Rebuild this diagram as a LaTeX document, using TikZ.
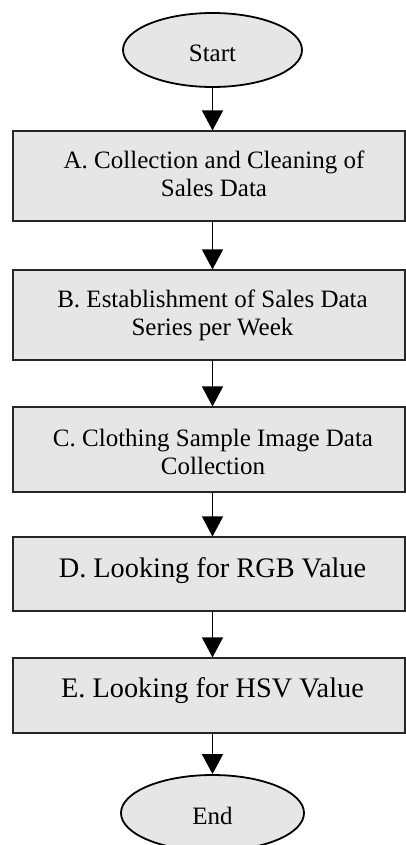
\documentclass[tikz,border=0pt]{standalone}
\usepackage{fontspec}
\setmainfont{Liberation Serif}
\usetikzlibrary{arrows.meta,shapes.geometric}
\definecolor{boxfill}{HTML}{E6E6E6}
\begin{document}
\begin{tikzpicture}[x=1pt,y=-1pt,
  terminal/.style={ellipse, draw=black, line width=1.8pt, fill=boxfill,
    inner sep=0pt, font=\fontsize{25}{30}\selectfont},
  stepbox/.style={rectangle, draw=black!85, line width=1.1pt, fill=boxfill,
    inner sep=0pt, minimum width=392pt},
  steptext/.style={anchor=base, align=center, inner sep=0pt,
    font=\fontsize{25}{27.75}\selectfont},
  bigtext/.style={steptext, font=\fontsize{28.3}{34}\selectfont},
  flow/.style={line width=1.2pt, -{Triangle[width=21pt,length=20pt]}}]

\useasboundingbox (0,0) rectangle (406,845);

% column along which the connectors run
\coordinate (axis) at (212.5,0);

% terminals
\node[terminal, minimum width=179pt, minimum height=74pt] (start) at (212.5,50)
  {\raisebox{-3pt}[\height][\depth]{Start}};
\node[terminal, minimum width=183pt, minimum height=76pt] (end) at (212.5,813)
  {\raisebox{-3pt}[\height][\depth]{End}};

% process boxes
\node[stepbox, minimum height=90pt] (a) at (209,176) {};
\node[stepbox, minimum height=90pt] (b) at (209,315) {};
\node[stepbox, minimum height=85pt] (c) at (209,449.5) {};
\node[stepbox, minimum height=74pt] (d) at (209,574) {};
\node[stepbox, minimum height=75pt] (e) at (209,695.5) {};

% box captions (base anchor sits on the last line's baseline)
\node[steptext] (ta) at (214,196.5) {A. Collection and Cleaning of\\Sales Data};
\node[steptext] (tb) at (212.5,335) {B. Establishment of Sales Data\\Series per Week};
\node[steptext] (tc) at (213,474) {C. Clothing Sample Image Data\\Collection};
\node[bigtext] (td) at (212.5,577) {D. Looking for RGB Value};
\node[bigtext] (te) at (212.5,697) {E. Looking for HSV Value};

% connectors
\draw[flow] (start) -- (start |- a.north);
\draw[flow] (a.south -| axis) -- (b.north -| axis);
\draw[flow] (b.south -| axis) -- (c.north -| axis);
\draw[flow] (c.south -| axis) -- (d.north -| axis);
\draw[flow] (d.south -| axis) -- (e.north -| axis);
\draw[flow] (e.south -| axis) -- (end);
\end{tikzpicture}
\end{document}
